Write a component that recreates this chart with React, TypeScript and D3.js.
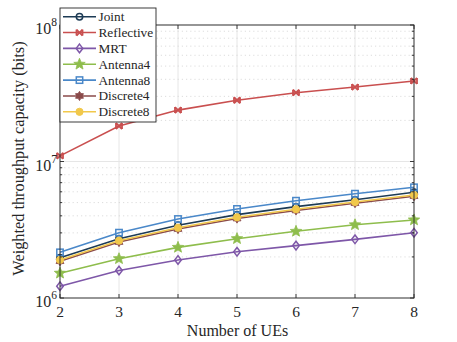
import React from "react";
import * as d3 from "d3";

const ues = [2, 3, 4, 5, 6, 7, 8];
const joint = [1.97e6, 2.72e6, 3.41e6, 4.08e6, 4.67e6, 5.25e6, 5.95e6];
const reflective = [1.1e7, 1.82e7, 2.38e7, 2.81e7, 3.19e7, 3.51e7, 3.89e7];
const mrt = [1.22e6, 1.59e6, 1.9e6, 2.18e6, 2.42e6, 2.69e6, 3.01e6];
const antenna4 = [1.52e6, 1.94e6, 2.35e6, 2.72e6, 3.08e6, 3.44e6, 3.73e6];
const antenna8 = [2.16e6, 3.01e6, 3.79e6, 4.49e6, 5.16e6, 5.81e6, 6.47e6];
const discrete4 = [1.86e6, 2.57e6, 3.2e6, 3.82e6, 4.38e6, 4.95e6, 5.57e6];
const discrete8 = [1.9e6, 2.63e6, 3.27e6, 3.9e6, 4.47e6, 5.05e6, 5.68e6];

const seriesNames = ["Joint", "Reflective", "MRT", "Antenna4", "Antenna8", "Discrete4", "Discrete8"];
const seriesData = [joint, reflective, mrt, antenna4, antenna8, discrete4, discrete8];
const colors = ["#1d3b55", "#c94f4f", "#7e57a8", "#8ebd4c", "#4a88c9", "#8a4a4a", "#f1c84b"];
const markers = ["circle", "x", "diamond", "star", "square", "hexstar", "filledcircle"];

const W = 457, H = 342;
const L = 60, R = 414, T = 25, B = 298;
const font = "'Liberation Serif', 'DejaVu Serif', serif";

function Marker({ type, x, y, color }: { type: string; x: number; y: number; color: string }) {
  if (type === "circle")
    return <circle cx={x} cy={y} r={3.2} fill="none" stroke={color} strokeWidth={1.5} />;
  if (type === "filledcircle")
    return <circle cx={x} cy={y} r={3.6} fill={color} stroke={color} strokeWidth={1} />;
  if (type === "square")
    return <rect x={x - 3.2} y={y - 3.2} width={6.4} height={6.4} fill="none" stroke={color} strokeWidth={1.5} />;
  if (type === "diamond")
    return <path d={`M${x},${y - 4.3}L${x + 3.3},${y}L${x},${y + 4.3}L${x - 3.3},${y}Z`} fill="none" stroke={color} strokeWidth={1.5} />;
  if (type === "x")
    return (
      <g stroke={color} strokeWidth={1.8}>
        <line x1={x - 3} y1={y - 3} x2={x + 3} y2={y + 3} />
        <line x1={x - 3} y1={y + 3} x2={x + 3} y2={y - 3} />
        <line x1={x - 3} y1={y - 3} x2={x - 3} y2={y + 3} />
        <line x1={x + 3} y1={y - 3} x2={x + 3} y2={y + 3} />
      </g>
    );
  if (type === "star") {
    const pts: string[] = [];
    for (let i = 0; i < 10; i++) {
      const a = -Math.PI / 2 + (i * Math.PI) / 5;
      const r = i % 2 === 0 ? 6 : 2.6;
      pts.push(`${x + r * Math.cos(a)},${y + r * Math.sin(a)}`);
    }
    return <polygon points={pts.join(" ")} fill={color} stroke={color} strokeWidth={0.8} />;
  }
  if (type === "hexstar") {
    const pts: string[] = [];
    for (let i = 0; i < 12; i++) {
      const a = -Math.PI / 2 + (i * Math.PI) / 6;
      const r = i % 2 === 0 ? 4.6 : 2.8;
      pts.push(`${x + r * Math.cos(a)},${y + r * Math.sin(a)}`);
    }
    return <polygon points={pts.join(" ")} fill={color} stroke={color} strokeWidth={0.8} />;
  }
  return null;
}

export default function App() {
  const x = d3.scaleLinear().domain([2, 8]).range([L, R]);
  const y = d3.scaleLog().domain([1e6, 1e8]).range([B, T]);
  const line = d3
    .line<number>()
    .x((_, i) => x(ues[i]))
    .y((d) => y(d));

  const minor: number[] = [];
  [1e6, 1e7].forEach((dec) => {
    for (let k = 2; k <= 9; k++) minor.push(k * dec);
  });
  const majors = [1e6, 1e7, 1e8];

  return (
    <svg width={W} height={H} style={{ position: "absolute", left: 0, top: 0, background: "#fff" }}>
      <rect x={L} y={T} width={R - L} height={B - T} fill="#fff" />
      {/* grid */}
      {ues.map((u) => (
        <line key={"gx" + u} x1={x(u)} x2={x(u)} y1={T} y2={B} stroke="#e6e6e6" strokeWidth={1} />
      ))}
      {minor.map((v) => (
        <line key={"gm" + v} x1={L} x2={R} y1={y(v)} y2={y(v)} stroke="#d4d4d4" strokeWidth={0.8} strokeDasharray="1.2,3" />
      ))}
      {majors.map((v) => (
        <line key={"gM" + v} x1={L} x2={R} y1={y(v)} y2={y(v)} stroke="#e6e6e6" strokeWidth={1} />
      ))}
      {/* series */}
      {seriesData.map((s, si) => (
        <g key={seriesNames[si]}>
          <path d={line(s) || ""} fill="none" stroke={colors[si]} strokeWidth={1.6} />
          {s.map((v, i) => (
            <Marker key={i} type={markers[si]} x={x(ues[i])} y={y(v)} color={colors[si]} />
          ))}
        </g>
      ))}
      {/* axes box */}
      <rect x={L} y={T} width={R - L} height={B - T} fill="none" stroke="#262626" strokeWidth={0.9} />
      {/* ticks */}
      {ues.map((u) => (
        <g key={"tx" + u} stroke="#262626" strokeWidth={0.9}>
          <line x1={x(u)} x2={x(u)} y1={B} y2={B - 4} />
          <line x1={x(u)} x2={x(u)} y1={T} y2={T + 4} />
        </g>
      ))}
      {majors.map((v) => (
        <g key={"tM" + v} stroke="#262626" strokeWidth={0.9}>
          <line x1={L} x2={L + 4} y1={y(v)} y2={y(v)} />
          <line x1={R} x2={R - 4} y1={y(v)} y2={y(v)} />
        </g>
      ))}
      {minor.map((v) => (
        <g key={"tm" + v} stroke="#262626" strokeWidth={0.9}>
          <line x1={L} x2={L + 2.2} y1={y(v)} y2={y(v)} />
          <line x1={R} x2={R - 2.2} y1={y(v)} y2={y(v)} />
        </g>
      ))}
      {/* tick labels */}
      {ues.map((u) => (
        <text key={"lx" + u} x={x(u)} y={316.5} textAnchor="middle" fontFamily={font} fontSize={15.5} fill="#262626">
          {u}
        </text>
      ))}
      {majors.map((v) => (
        <text key={"ly" + v} x={L - 3} y={y(v) + 9} textAnchor="end" fontFamily={font} fontSize={16} fill="#262626">
          10
          <tspan dy={-8} fontSize={11.5}>
            {Math.round(Math.log10(v))}
          </tspan>
        </text>
      ))}
      <text x={(L + R) / 2 + 0.5} y={336} textAnchor="middle" fontFamily={font} fontSize={16} fill="#262626">
        Number of UEs
      </text>
      <text
        transform={`translate(23.5,158.5) rotate(-90)`}
        textAnchor="middle"
        fontFamily={font}
        fontSize={16.3}
        fill="#262626"
      >
        Weighted throughput capacity (bits)
      </text>
      {/* legend */}
      <rect x={60} y={8} width={96} height={114} fill="#fff" stroke="#262626" strokeWidth={0.9} />
      {seriesNames.map((n, i) => {
        const ly = 16.7 + i * 15.85;
        return (
          <g key={"lg" + n}>
            <line x1={63} x2={96} y1={ly} y2={ly} stroke={colors[i]} strokeWidth={1.6} />
            <Marker type={markers[i]} x={79.5} y={ly} color={colors[i]} />
            <text x={98.5} y={ly + 4.5} fontFamily={font} fontSize={13.3} fill="#262626">
              {n}
            </text>
          </g>
        );
      })}
    </svg>
  );
}
